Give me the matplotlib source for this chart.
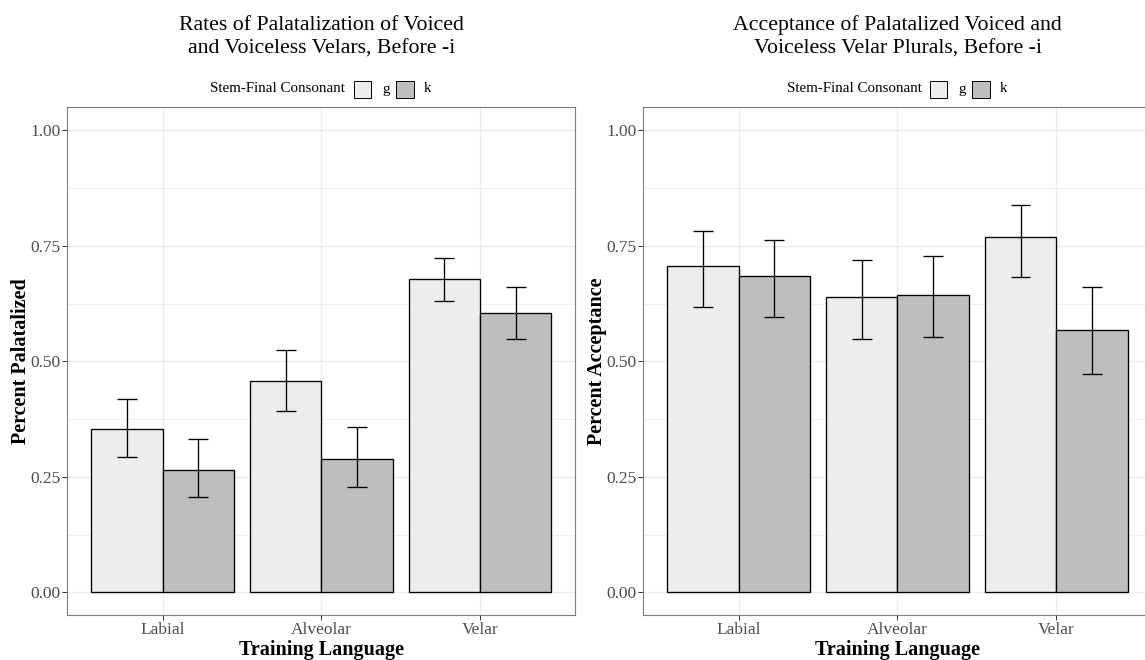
import numpy as np
import matplotlib as mpl
import matplotlib.pyplot as plt
from matplotlib.patches import Rectangle

mpl.rcParams['font.family'] = ['Liberation Serif', 'DejaVu Serif']

languages = ['Labial', 'Alveolar', 'Velar']
consonants = ['g', 'k']
fills = {'g': '#EDEDED', 'k': '#BEBEBE'}

# production task: proportion palatalized, with error bar limits
pal_mean = {'g': [0.354, 0.458, 0.679], 'k': [0.264, 0.288, 0.605]}
pal_lo = {'g': [0.293, 0.392, 0.631], 'k': [0.206, 0.227, 0.548]}
pal_hi = {'g': [0.419, 0.525, 0.724], 'k': [0.332, 0.358, 0.660]}

# judgement task: proportion accepted, with error bar limits
acc_mean = {'g': [0.707, 0.639, 0.769], 'k': [0.685, 0.644, 0.568]}
acc_lo = {'g': [0.618, 0.549, 0.682], 'k': [0.596, 0.552, 0.473]}
acc_hi = {'g': [0.783, 0.720, 0.839], 'k': [0.763, 0.728, 0.660]}

W, H = 1145, 660
fig = plt.figure(figsize=(W / 100, H / 100), dpi=100, facecolor='w')


def px(x0, y0, x1, y1):
    # pixel box (from top-left) -> figure fraction rect
    return [x0 / W, 1 - y1 / H, (x1 - x0) / W, (y1 - y0) / H]


def draw_panel(rect, mean, lo, hi, title, ylabel):
    ax = fig.add_axes(rect)
    x = np.arange(1, len(languages) + 1)
    bw = 0.45
    for i, c in enumerate(consonants):
        xs = x + (i - 0.5) * bw
        ax.bar(xs, mean[c], width=bw, color=fills[c], edgecolor='black',
               linewidth=0.95, zorder=3)
        ax.vlines(xs, lo[c], hi[c], color='black', lw=0.95, zorder=4)
        ax.hlines(lo[c], xs - 0.0625, xs + 0.0625, color='black', lw=0.95, zorder=4)
        ax.hlines(hi[c], xs - 0.0625, xs + 0.0625, color='black', lw=0.95, zorder=4)

    ax.set_xlim(0.4, 3.6)
    ax.set_ylim(-0.05, 1.05)
    ax.set_xticks(x)
    ax.set_xticklabels(languages)
    ax.set_yticks([0, 0.25, 0.5, 0.75, 1.0])
    ax.set_yticklabels(['0.00', '0.25', '0.50', '0.75', '1.00'])
    ax.set_yticks([0.125, 0.375, 0.625, 0.875], minor=True)
    ax.tick_params(axis='both', which='major', length=3.5, width=0.7,
                   color='#333333', labelcolor='#4D4D4D', labelsize=12.5)
    ax.tick_params(axis='y', pad=1.5)
    ax.tick_params(axis='x', pad=1.5)
    ax.tick_params(axis='y', which='minor', length=0)
    ax.grid(True, which='major', color='#EBEBEB', lw=1.0, zorder=0)
    ax.grid(True, which='minor', axis='y', color='#EBEBEB', lw=0.6, zorder=0)
    ax.set_axisbelow(True)
    for s in ax.spines.values():
        s.set_color('#7F7F7F')
        s.set_linewidth(0.8)

    ax.set_xlabel('Training Language', fontsize=14.5, fontweight='bold', va='baseline')
    ax.xaxis.set_label_coords(0.5, -0.078)
    ax.set_ylabel(ylabel, fontsize=14.5, fontweight='bold', va='center')
    ax.yaxis.set_label_coords(-0.092, 0.5)

    # title and legend sit above the panel, centred on it
    cx = (rect[0] + rect[2] / 2) * W
    fig.text(cx / W, 1 - 37 / H, title, ha='center', va='center',
             fontsize=15.7, linespacing=1.35)
    ly = 1 - 89 / H
    fig.text((cx + 24) / W, ly, 'Stem-Final Consonant', ha='right', va='center',
             fontsize=10.8)
    for c, kx, tx in [('g', 32.5, 61), ('k', 75, 102)]:
        fig.add_artist(Rectangle(((cx + kx) / W, ly - 8.5 / H), 17.5 / W, 17 / H,
                                 transform=fig.transFigure, facecolor=fills[c],
                                 edgecolor='black', lw=0.7))
        fig.text((cx + tx) / W, ly, c, ha='left', va='center', fontsize=10.8)
    return ax


draw_panel(px(67.3, 107.3, 575.3, 615.4), pal_mean, pal_lo, pal_hi,
           'Rates of Palatalization of Voiced\nand Voiceless Velars, Before -i',
           'Percent Palatalized')
draw_panel(px(643.3, 107.3, 1151.6, 615.4), acc_mean, acc_lo, acc_hi,
           'Acceptance of Palatalized Voiced and\nVoiceless Velar Plurals, Before -i',
           'Percent Acceptance')

plt.savefig('out.png', dpi=100, facecolor='w')
